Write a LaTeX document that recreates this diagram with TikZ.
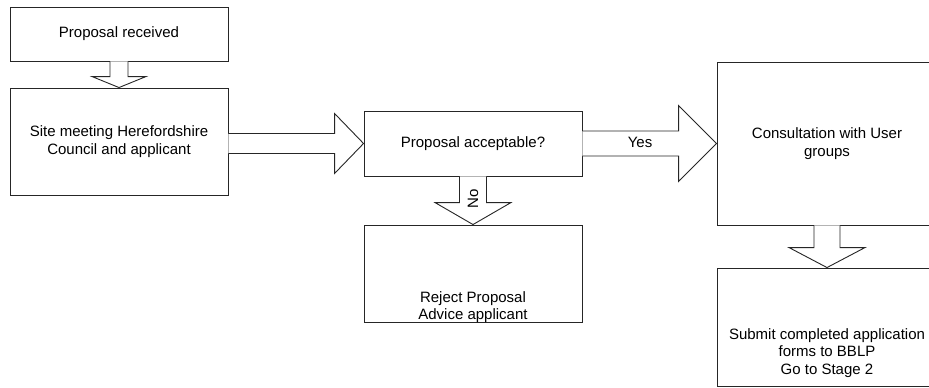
\documentclass[tikz,border=0pt]{standalone}
\usepackage{fontspec}
\setmainfont{Liberation Sans}
\usetikzlibrary{calc}
\tikzset{
  box/.style={draw=black!85, line width=0.9pt, rectangle, inner sep=0pt, align=center},
  blk/.style={draw=black!85, line width=0.9pt, fill=white, line join=miter},
  txt/.style={inner sep=0pt, align=center},
}
\newcommand{\blkdown}[5]{%
  \draw[blk] ($(#1)+(-#3,0)$) -- ($(#2)+(-#3,-#5)$) -- ($(#2)+(-#4,-#5)$) -- (#2)
    -- ($(#2)+(#4,-#5)$) -- ($(#2)+(#3,-#5)$) -- ($(#1)+(#3,0)$);}
\newcommand{\blkright}[5]{%
  \draw[blk] ($(#1)+(0,-#3)$) -- ($(#2)+(-#5,-#3)$) -- ($(#2)+(-#5,-#4)$) -- (#2)
    -- ($(#2)+(-#5,#4)$) -- ($(#2)+(-#5,#3)$) -- ($(#1)+(0,#3)$);}
\begin{document}
\begin{tikzpicture}[x=1pt,y=-1pt, font=\fontsize{15}{17.5}\selectfont]
\useasboundingbox (0,0) rectangle (929,388);
\node[box, minimum width=218pt, minimum height=54pt] (b1) at (119,34) {Proposal received};
\node[box, minimum width=218pt, minimum height=107pt] (b2) at (119,141.5) {Site meeting Herefordshire\\Council and applicant};
\node[box, minimum width=218pt, minimum height=65pt] (b3) at (473,143.5) {Proposal acceptable?};
\node[box, minimum width=220pt, minimum height=163pt] (b4) at (827,143.5) {Consultation with User\\groups};
\node[box, minimum width=220pt, minimum height=118pt] (b5) at (827,327) {};
\node[box, minimum width=218pt, minimum height=97pt] (b6) at (473,273.5) {};
\node[txt] (t5) at (827,353) {Submit completed application\\forms to BBLP\\Go to Stage 2};
\node[txt] (t6) at (473,307) {Reject Proposal\\Advice applicant};
% block arrows
\blkdown{b1.south}{b2.north}{9}{27}{11}
\blkright{b2.east|-b3.west}{b3.west}{10}{30}{29}
\blkright{b3.east}{b4.west}{12.5}{38}{38}
\blkdown{b3.south}{b6.north}{13.5}{38}{22}
\blkdown{b4.south}{b5.north}{13}{38}{20}
\node[txt] (yes) at (640,142) {Yes};
\node[txt, rotate=90] (no) at (473,199) {No};
\end{tikzpicture}
\end{document}
